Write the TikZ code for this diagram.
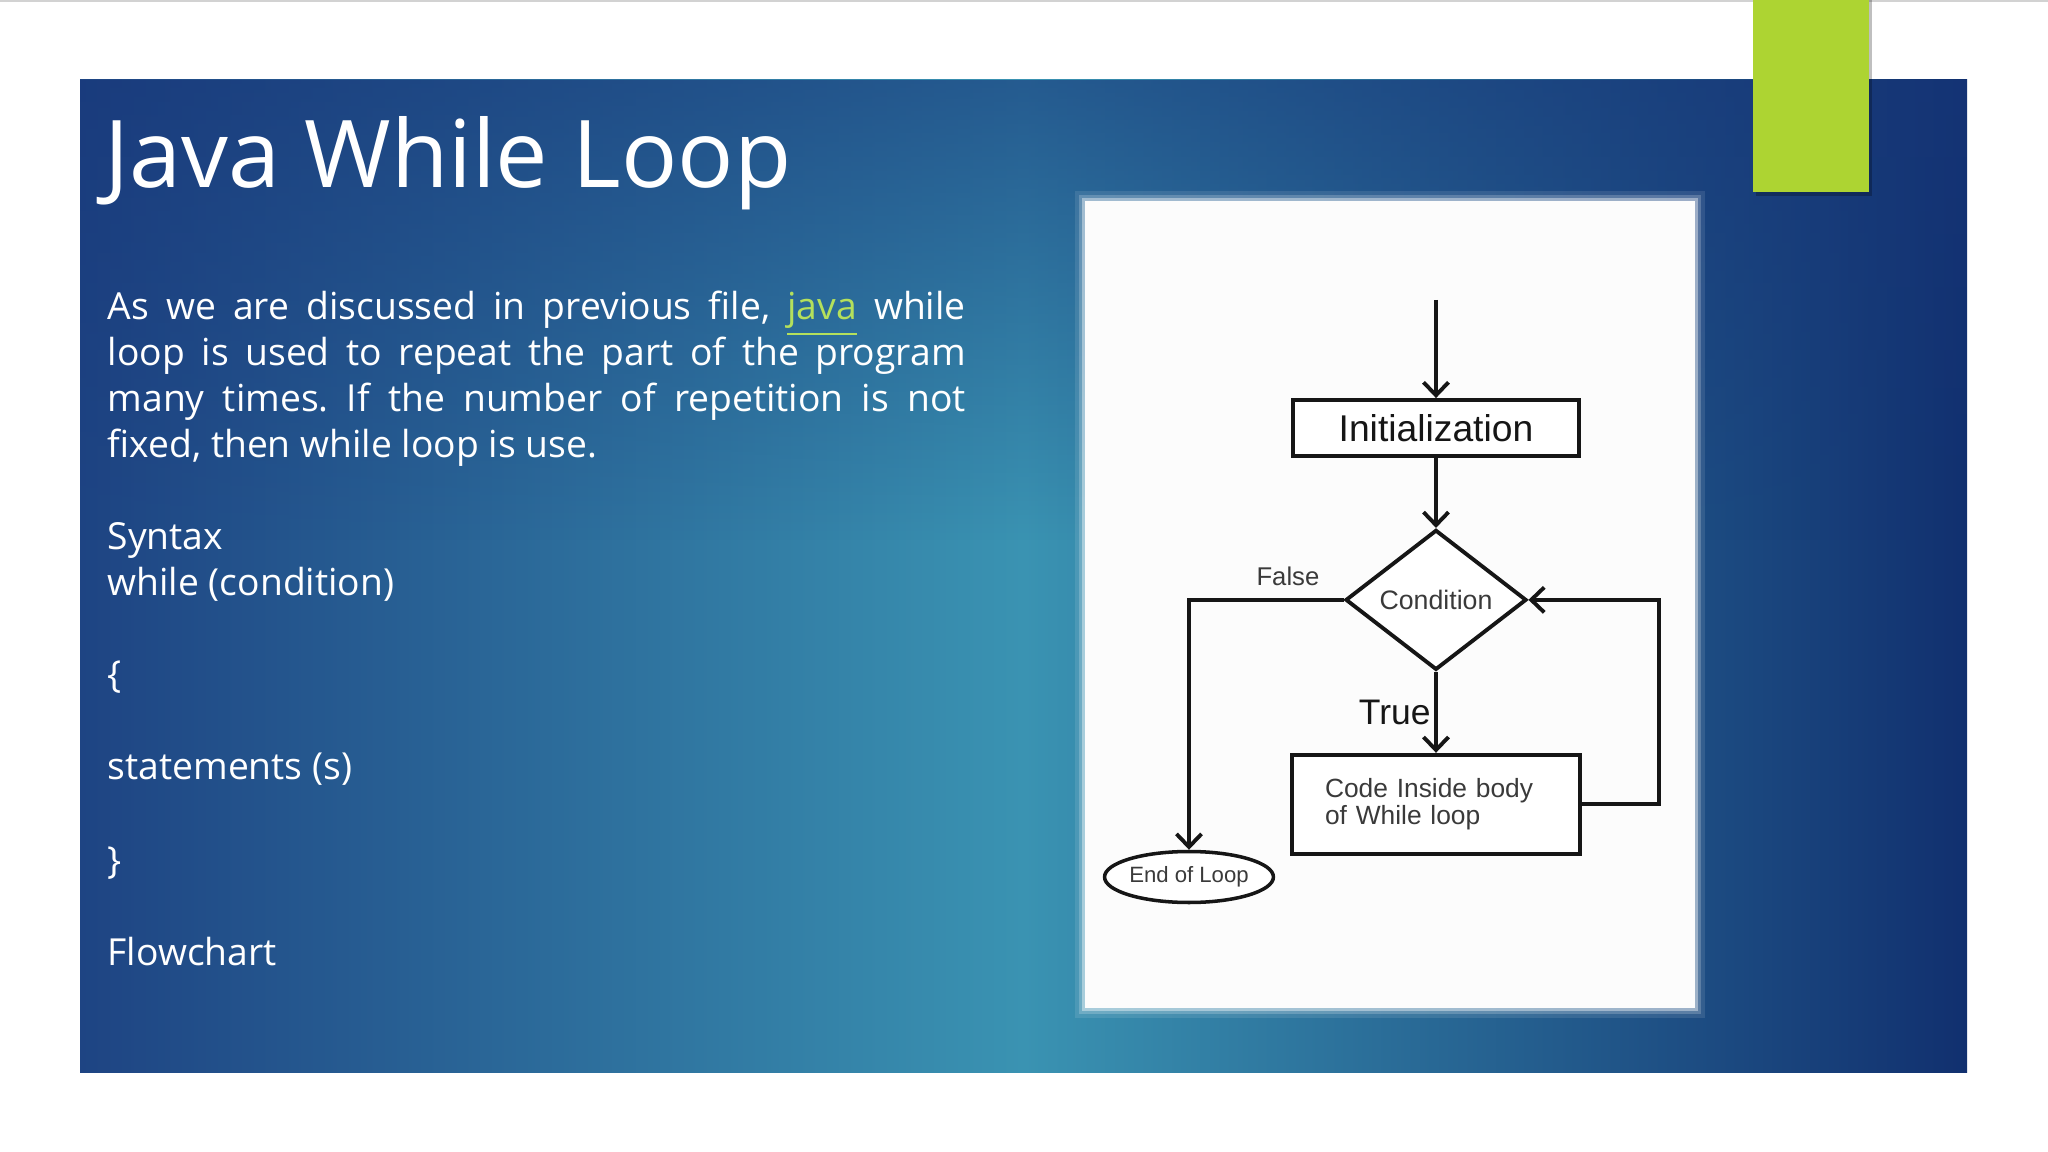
\documentclass[tikz,border=0pt]{standalone}
\usepackage{fontspec}
\newfontfamily\slidefont{Open Sans}
\newfontfamily\chartfont{Liberation Sans}
\usetikzlibrary{arrows.meta,positioning,shapes.geometric,fadings}
\definecolor{panelnavy}{HTML}{1E4483}
\definecolor{panelteal}{HTML}{3A93B2}
\definecolor{paneldeep}{HTML}{11306F}
\definecolor{paneltop}{HTML}{173679}
\definecolor{accentgreen}{HTML}{ADD432}
\definecolor{linkgreen}{HTML}{B4E05C}
\definecolor{chartink}{HTML}{161616}
\definecolor{chartgray}{HTML}{3A3A3A}
\tikzset{
  >=Latex,
  title/.style={font=\slidefont\fontsize{26.6pt}{32pt}\selectfont, text=white, anchor=base west, inner sep=0pt},
  bodyline/.style={font=\slidefont\fontsize{10.6pt}{13.1pt}\selectfont, text=white, anchor=base west, inner sep=0pt},
  stepbox/.style={
    rectangle, draw=chartink, line width=1.1pt, fill=white,
    minimum width=2.86cm, text=chartink
  },
  decision/.style={
    diamond, draw=chartink, line width=1.1pt, fill=white, inner sep=0pt,
    minimum width=1.81cm, minimum height=1.40cm,
    font=\chartfont\fontsize{7.6pt}{9pt}\selectfont, text=chartgray
  },
  terminal/.style={
    ellipse, draw=chartink, line width=1pt, fill=white, inner sep=0pt,
    minimum width=1.45cm, minimum height=0.51cm,
    font=\chartfont\fontsize{6.3pt}{7pt}\selectfont, text=chartgray
  },
  arrow/.style={-{Straight Barb[length=1.3mm,width=2.5mm]}, line width=1.1pt, draw=chartink},
  flowlabel/.style={font=\chartfont\fontsize{7.3pt}{8pt}\selectfont, text=chartgray}
}
\newcommand{\justline}[1]{\makebox[8.58cm][s]{#1}}

\begin{document}
\frenchspacing
\begin{tikzpicture}
\useasboundingbox (0,0) rectangle (20.48,-11.52);
\fill[white] (0,0) rectangle (20.48,-11.52);
\draw[gray!35, line width=0.5pt] (0,-0.01) -- (20.48,-0.01);
% slide panel
\shade[left color=panelnavy, right color=paneldeep, middle color=panelteal] (0.80,-0.80) rectangle (19.67,-10.72);
\fill[paneltop, path fading=south, opacity=0.6] (0.80,-0.80) rectangle (19.67,-5.4);
% accent bar
\fill[black, opacity=0.25] (17.56,0) rectangle (18.72,-1.96);
\fill[accentgreen] (17.53,0) rectangle (18.69,-1.92);
% text column
\node[title] (head) at (1.04,-1.88) {Java While Loop};
\node[bodyline] (p1) at (1.07,-3.20) {\justline{As we are discussed in previous file, \textcolor{linkgreen}{\underline{java}} while}};
\node[bodyline] (p2) at (1.07,-3.66) {\justline{loop is used to repeat the part of the program}};
\node[bodyline] (p3) at (1.07,-4.12) {\justline{many times. If the number of repetition is not}};
\node[bodyline] (p4) at (1.07,-4.58) {fixed, then while loop is use.};
\node[bodyline] (syn) at (1.07,-5.50) {Syntax};
\node[bodyline] (whl) at (1.07,-5.96) {while (condition)};
\node[bodyline] (ob) at (1.07,-6.88) {\{};
\node[bodyline] (stm) at (1.07,-7.80) {statements (s)};
\node[bodyline] (cb) at (1.07,-8.73) {\}};
\node[bodyline] (fc) at (1.07,-9.65) {Flowchart};
% picture frame
\fill[white, opacity=0.1] (10.75,-1.91) rectangle (17.05,-10.18);
\fill[white, opacity=0.2] (10.79,-1.95) rectangle (17.01,-10.14);
\fill[white, opacity=0.4] (10.82,-1.98) rectangle (16.98,-10.11);
\fill[white!98!gray] (10.85,-2.01) rectangle (16.95,-10.08);
% flowchart
\coordinate (start) at (14.36,-3.00);
\node[stepbox, minimum height=0.56cm, font=\chartfont\fontsize{10.6pt}{12pt}\selectfont] (init) at (14.36,-4.28) {Initialization};
\node[decision, below=0.70cm of init] (cond) {Condition};
\node[stepbox, below=0.81cm of cond, minimum height=0.99cm, text width=2.22cm, inner xsep=0.33cm, inner ysep=0pt, align=left,
  font=\chartfont\fontsize{7.5pt}{7.8pt}\selectfont, text=chartgray] (body) {Code Inside body\\of While loop};
\node[terminal] (stop) at (11.89,-8.77) {End of Loop};
\draw[arrow] (start) -- (init);
\draw[arrow] (init) -- (cond);
\draw[arrow] (cond) -- node[left, inner sep=1pt, font=\chartfont\fontsize{10.1pt}{11pt}\selectfont, text=chartink] {True} (body);
\draw[arrow] (body.east) -- ++(0.77,0) |- (cond.east);
\draw[arrow] (cond.west) -| node[flowlabel, pos=0.18, above] {False} (stop.north);
\end{tikzpicture}
\end{document}
